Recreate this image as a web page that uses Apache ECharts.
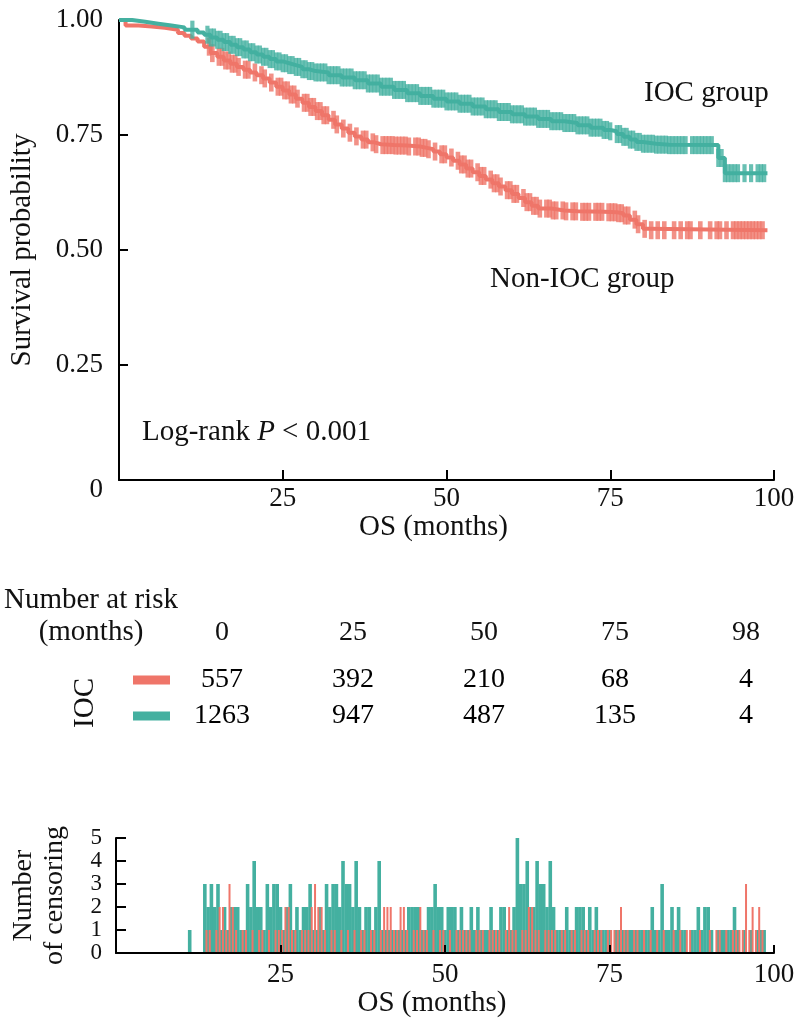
<!DOCTYPE html>
<html>
<head>
<meta charset="utf-8">
<script src="https://cdn.jsdelivr.net/npm/echarts@6/dist/echarts.min.js"></script>
<style>
html,body{margin:0;padding:0;background:#fff;}
#chart{width:800px;height:1023px;}
</style>
</head>
<body>
<div id="chart"></div>
<script>
// ---------------- DATA ----------------
// Kaplan-Meier step points [months, survival]
const kmIOC = [[0,1.000],[2,0.996],[4,0.992],[6,0.988],[8,0.984],[10,0.979],[12,0.973],[13,0.968],[14,0.962],[15,0.957],[16,0.952],[17,0.946],[18,0.941],[19,0.936],[20,0.930],[21,0.925],[22,0.920],[23,0.915],[24,0.910],[25,0.906],[26,0.902],[27,0.898],[28,0.893],[29,0.889],[30,0.886],[32,0.880],[34,0.875],[36,0.869],[38,0.862],[40,0.855],[42,0.848],[44,0.841],[46,0.835],[48,0.829],[50,0.823],[52,0.818],[54,0.812],[56,0.806],[58,0.800],[60,0.795],[62,0.790],[64,0.785],[66,0.780],[68,0.776],[70,0.771],[72,0.766],[74,0.761],[75,0.758],[76,0.752],[77,0.746],[78,0.740],[79,0.735],[80,0.731],[82,0.729],[84,0.728],[91.5,0.700],[92.5,0.667],[99,0.667]];
const kmNonIOC = [[0,1.000],[1,0.988],[3,0.986],[5,0.983],[7,0.979],[9,0.972],[10,0.966],[11,0.960],[12,0.953],[13,0.942],[14,0.928],[15,0.920],[16,0.912],[17,0.905],[18,0.898],[19,0.892],[20,0.886],[21,0.880],[22,0.873],[23,0.864],[24,0.855],[25,0.847],[26,0.838],[27,0.829],[28,0.820],[29,0.811],[30,0.802],[31,0.793],[32,0.783],[33,0.773],[34,0.764],[35,0.755],[36,0.747],[37,0.740],[38,0.734],[39,0.730],[40,0.728],[42,0.727],[44,0.725],[46,0.722],[47,0.719],[48,0.714],[49,0.708],[50,0.701],[51,0.694],[52,0.686],[53,0.677],[54,0.669],[55,0.661],[56,0.653],[57,0.645],[58,0.638],[59,0.630],[60,0.622],[61,0.613],[62,0.604],[63,0.596],[64,0.590],[66,0.586],[68,0.584],[70,0.583],[74,0.582],[76,0.580],[77,0.575],[78,0.566],[79,0.556],[80,0.546],[81,0.543],[99,0.543]];

// Number of censored patients per half-month bin
const censorStart = 13.5;   // first bin (months)
const censorStep = 0.5;     // bin width (months)
const censorIOC = [
3,2,3,2,3,1,2,1,2,2,
2,1,1,3,2,4,2,2,1,3,
2,3,3,2,1,2,3,1,2,1,
2,2,3,1,1,2,1,3,2,3,
3,2,4,3,3,2,4,2,1,2,
2,1,2,4,1,1,1,1,1,1,
1,1,2,2,2,2,1,1,2,2,
3,2,2,1,2,2,2,1,2,1,
1,2,1,2,1,1,1,2,1,1,
2,2,1,1,2,5,3,3,4,2,
2,4,3,3,2,4,2,1,1,1,
2,1,1,2,2,2,1,2,1,2,
1,1,1,1,0,1,1,1,1,1,
1,1,1,1,1,1,2,1,1,3,
1,1,2,1,2,1,1,0,1,1,
2,1,2,2,1,0,1,1,1,1,
1,2,1,0,1,0,1,0,1,1,
1];
const censorNonIOC = [
1,1,0,1,2,2,1,3,2,1,
0,1,1,0,1,0,1,1,0,1,
0,1,1,1,2,2,1,1,0,1,
1,1,2,3,2,2,1,0,1,1,
0,1,0,1,0,1,0,1,1,0,
1,1,0,1,2,2,2,1,1,2,
2,1,0,1,1,2,1,1,0,1,
0,1,1,0,1,0,1,1,1,1,
1,0,1,1,1,0,1,1,1,1,
0,1,2,1,1,0,1,1,2,2,
1,1,0,1,1,1,1,0,1,1,
0,1,1,0,1,1,1,0,1,1,
1,0,1,1,1,1,2,1,1,0,
1,1,0,1,0,1,0,1,0,1,
0,0,1,0,1,0,1,1,0,0,
1,0,0,1,0,1,1,0,1,0,
1,1,1,1,3,1,2,1,2,1,
0];
const censorIOCEarly = [[11.2, 1]];

// Number at risk table
const riskTimes = ['0', '25', '50', '75', '98'];
const riskNonIOC = [557, 392, 210, 68, 4];
const riskIOC = [1263, 947, 487, 135, 4];

// Axis ticks
const survivalTicks = [0, 0.25, 0.5, 0.75, 1];
const monthTicks = [0, 25, 50, 75, 100];

// ---------------- STYLE ----------------
const RED = '#EF7569';
const TEAL = '#44B0A0';
const INK = '#111';
const FONT = "'Liberation Serif', 'Times New Roman', serif";

// ---------------- HELPERS ----------------
function survAt(km, t) {
  let s = km[0][1];
  for (const p of km) { if (p[0] <= t) s = p[1]; else break; }
  return s;
}
function censorBars(counts, offset) {
  const out = [];
  counts.forEach((c, i) => { if (c > 0) out.push([censorStart + censorStep * i + offset, c]); });
  return out;
}
const barsIOC = censorIOCEarly.concat(censorBars(censorIOC, 0));
const barsNon = censorBars(censorNonIOC, censorStep / 2);
const marksIOC = barsIOC.map(b => [b[0], survAt(kmIOC, b[0])]);
const marksNon = barsNon.map(b => [b[0], survAt(kmNonIOC, b[0])]);

const tableData = [];
riskNonIOC.forEach((v, i) => tableData.push([i, 0, v]));
riskIOC.forEach((v, i) => tableData.push([i, 1, v]));

const axisLineStyle = { lineStyle: { color: '#000', width: 2 } };

const option = {
  animation: false,
  backgroundColor: '#fff',
  textStyle: { fontFamily: FONT, color: INK },
  grid: [
    { left: 116, top: 20, width: 658, height: 460 },
    { left: 116, top: 838, width: 658, height: 115 },
    { left: 222, top: 680, width: 524, height: 36 }
  ],
  xAxis: [
    {
      gridIndex: 0, type: 'value', min: monthTicks[0], max: monthTicks[4], interval: 25,
      splitLine: { show: false },
      axisLine: axisLineStyle,
      axisTick: { inside: true, length: 10, lineStyle: { color: '#000', width: 2 } },
      axisLabel: { fontSize: 27, color: INK, fontFamily: FONT, margin: 5,
        formatter: v => (v === 0 ? '' : String(v)) },
      name: 'OS (months)', nameLocation: 'middle', nameGap: 30,
      nameTextStyle: { fontSize: 29, color: INK, fontFamily: FONT, padding: [0, 26, 0, 0] }
    },
    {
      gridIndex: 1, type: 'value', min: monthTicks[0], max: monthTicks[4], interval: 25, z: 10,
      splitLine: { show: false },
      axisLine: axisLineStyle,
      axisTick: { inside: true, length: 8, lineStyle: { color: '#000', width: 2 } },
      axisLabel: { fontSize: 27, color: INK, fontFamily: FONT, margin: 8,
        formatter: v => (v === 0 ? '' : String(v)) },
      name: 'OS (months)', nameLocation: 'middle', nameGap: 34,
      nameTextStyle: { fontSize: 29, color: INK, fontFamily: FONT, padding: [0, 26, 0, 0] }
    },
    {
      gridIndex: 1, type: 'value', min: monthTicks[0], max: monthTicks[4], show: false
    },
    {
      gridIndex: 2, type: 'category', data: riskTimes, position: 'top', boundaryGap: false,
      axisLine: { show: false }, axisTick: { show: false }, splitLine: { show: false },
      axisLabel: { fontSize: 28, color: INK, fontFamily: FONT, margin: 33 }
    }
  ],
  yAxis: [
    {
      gridIndex: 0, type: 'value', min: survivalTicks[0], max: survivalTicks[4], interval: 0.25,
      splitLine: { show: false },
      axisLine: { show: true, lineStyle: { color: '#000', width: 2 } },
      axisTick: { show: true, inside: true, length: 9, lineStyle: { color: '#000', width: 2 } },
      axisLabel: { fontSize: 27, color: INK, fontFamily: FONT, margin: 16,
        formatter: v => (v === 0 ? '{z|0}' : v.toFixed(2)),
        rich: { z: { fontSize: 27, fontFamily: FONT, color: INK, padding: [20, 0, 0, 0] } } },
      name: 'Survival probability', nameLocation: 'middle', nameRotate: 90, nameGap: 82,
      nameTextStyle: { fontSize: 29, color: INK, fontFamily: FONT }
    },
    {
      gridIndex: 1, type: 'value', min: 0, max: 5, interval: 1,
      splitLine: { show: false },
      axisLine: { show: true, lineStyle: { color: '#000', width: 2 } },
      axisTick: { show: true, inside: true, length: 10, lineStyle: { color: '#000', width: 2 } },
      axisLabel: { fontSize: 23, color: INK, fontFamily: FONT, margin: 14 },
      name: 'Number\nof censoring', nameLocation: 'middle', nameRotate: 90, nameGap: 46,
      nameTextStyle: { fontSize: 28, color: INK, fontFamily: FONT, lineHeight: 31 }
    },
    {
      gridIndex: 2, type: 'category', data: ['non', 'ioc'], inverse: true, boundaryGap: false,
      axisLine: { show: false }, axisTick: { show: false }, splitLine: { show: false },
      axisLabel: { margin: 52,
        formatter: v => (v === 'non' ? '{r|}' : '{t|}'),
        rich: {
          r: { width: 37, height: 9, backgroundColor: RED },
          t: { width: 37, height: 9, backgroundColor: TEAL }
        } }
    }
  ],
  series: [
    { type: 'line', xAxisIndex: 0, yAxisIndex: 0, data: kmNonIOC, step: 'end', showSymbol: false,
      lineStyle: { color: RED, width: 4 }, z: 2 },
    { type: 'scatter', xAxisIndex: 0, yAxisIndex: 0, data: marksNon, symbol: 'rect',
      symbolSize: [4.6, 18], itemStyle: { color: RED }, z: 2 },
    { type: 'line', xAxisIndex: 0, yAxisIndex: 0, data: kmIOC, step: 'end', showSymbol: false,
      lineStyle: { color: TEAL, width: 4 }, z: 3 },
    { type: 'scatter', xAxisIndex: 0, yAxisIndex: 0, data: marksIOC, symbol: 'rect',
      symbolSize: [4.2, 18], itemStyle: { color: TEAL }, z: 3 },
    { type: 'bar', xAxisIndex: 1, yAxisIndex: 1, data: barsIOC, barWidth: 3.6,
      itemStyle: { color: TEAL }, z: 2 },
    { type: 'bar', xAxisIndex: 2, yAxisIndex: 1, data: barsNon, barWidth: 2,
      itemStyle: { color: RED }, z: 3 },
    { type: 'scatter', xAxisIndex: 3, yAxisIndex: 2, data: tableData, symbolSize: 0.01,
      itemStyle: { color: '#ffffff', opacity: 1 },
      label: { show: true, position: 'inside', fontSize: 28, color: '#000', fontFamily: FONT,
        textBorderWidth: 0, formatter: p => String(p.value[2]) } }
  ],
  graphic: [
    { type: 'text', x: 644, y: 93, style: { text: 'IOC group', fontSize: 29, fontFamily: FONT, fill: INK,
        align: 'left', verticalAlign: 'middle', textAlign: 'left', textVerticalAlign: 'middle' } },
    { type: 'text', x: 490, y: 279, style: { text: 'Non-IOC group', fontSize: 29, fontFamily: FONT, fill: INK,
        align: 'left', verticalAlign: 'middle', textAlign: 'left', textVerticalAlign: 'middle' } },
    { type: 'text', x: 142, y: 432, style: { text: 'Log-rank {i|P} < 0.001', fontSize: 29, fontFamily: FONT, fill: INK,
        align: 'left', verticalAlign: 'middle', textAlign: 'left', textVerticalAlign: 'middle',
        rich: { i: { fontStyle: 'italic', fontSize: 29, fontFamily: FONT, fill: INK } } } },
    { type: 'text', x: 4, y: 600, style: { text: 'Number at risk', fontSize: 29, fontFamily: FONT, fill: INK,
        align: 'left', verticalAlign: 'middle', textAlign: 'left', textVerticalAlign: 'middle' } },
    { type: 'text', x: 91, y: 632, style: { text: '(months)', fontSize: 29, fontFamily: FONT, fill: INK,
        align: 'center', verticalAlign: 'middle', textAlign: 'center', textVerticalAlign: 'middle' } },
    { type: 'text', x: 85, y: 703, rotation: Math.PI / 2, style: { text: 'IOC', fontSize: 29, fontFamily: FONT, fill: INK,
        align: 'center', verticalAlign: 'middle', textAlign: 'center', textVerticalAlign: 'middle' } }
  ]
};

const chart = echarts.init(document.getElementById('chart'), null, { renderer: 'canvas' });
chart.setOption(option);
</script>
</body>
</html>
